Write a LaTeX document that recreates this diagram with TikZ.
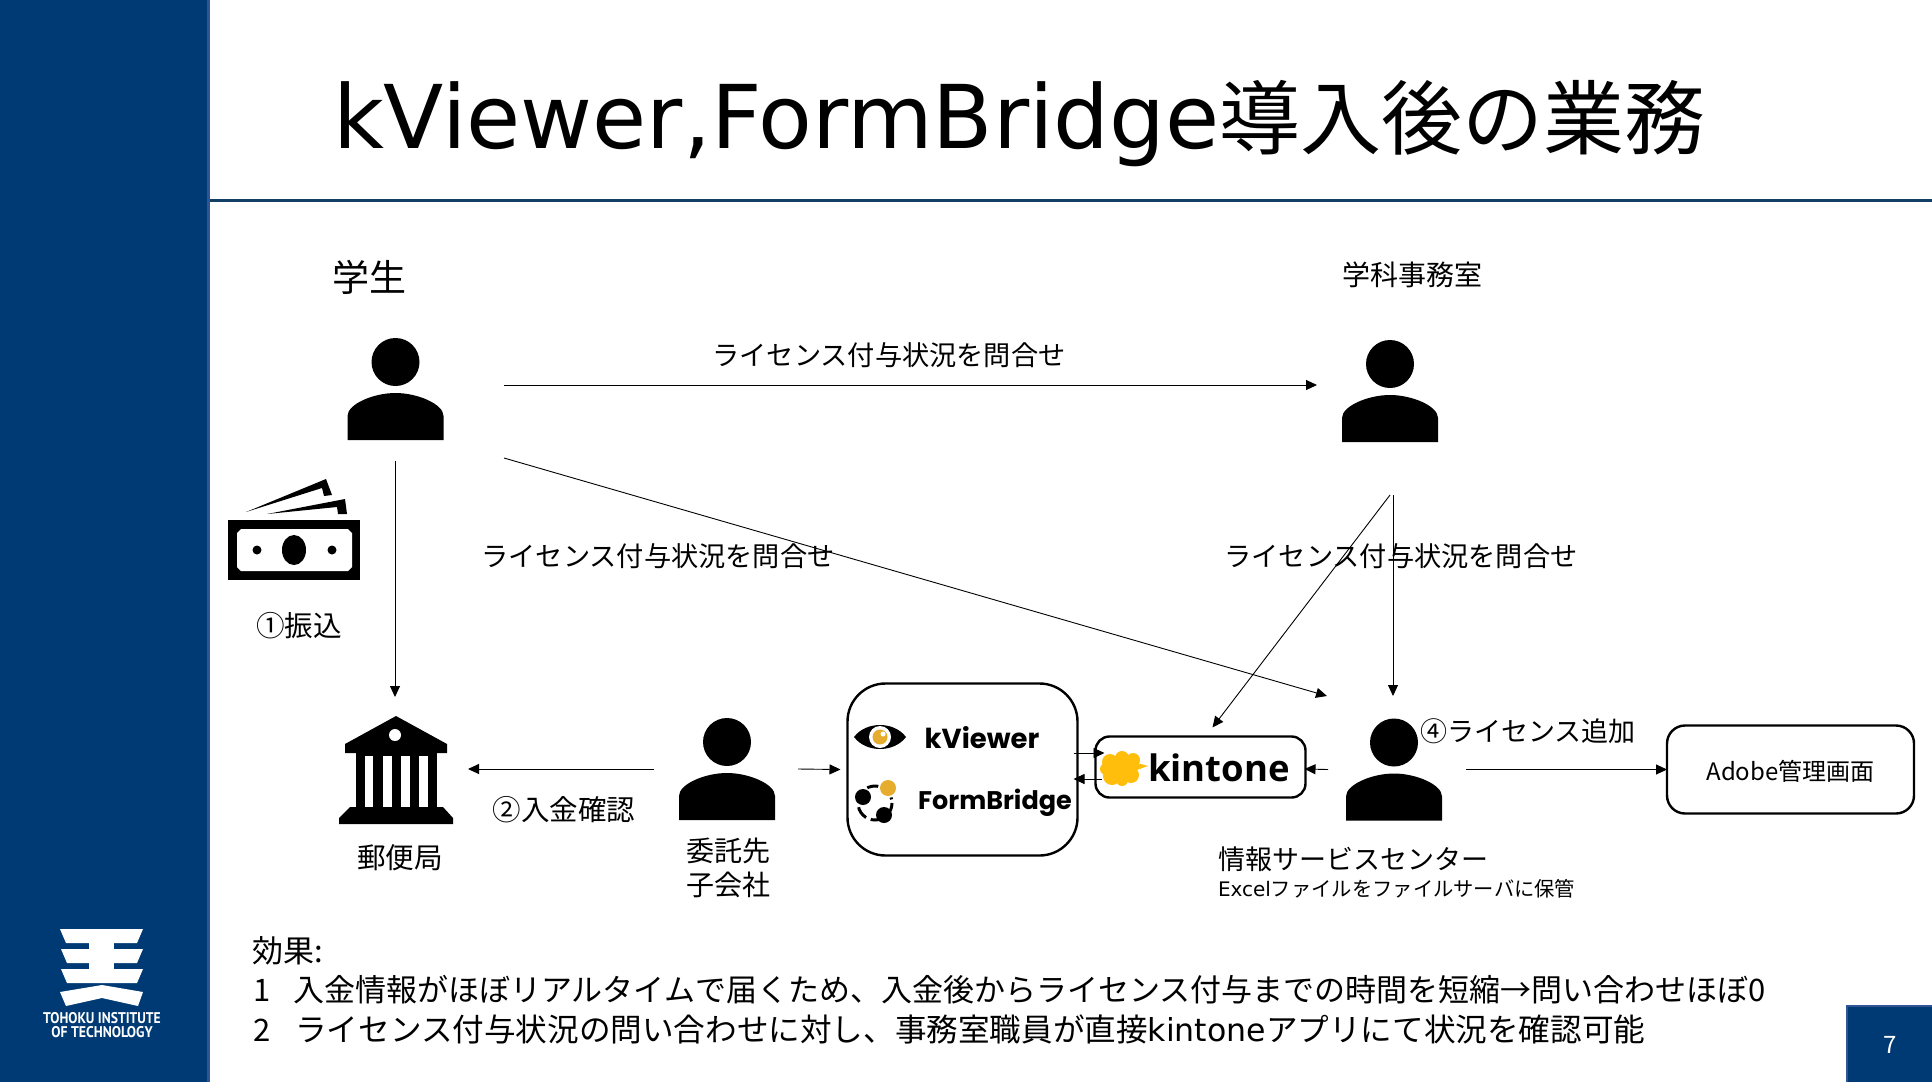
\documentclass[tikz,border=0pt]{standalone}
\usepackage{fontspec}
\setmainfont{Noto Sans CJK JP}
\newfontfamily\logofont{Poppins}
\newfontfamily\kinfont{Open Sans}
\newfontfamily\emblemfont{PT Sans}
\newfontfamily\titlelatin{DejaVu Sans}
\usetikzlibrary{arrows.meta,calc}
\definecolor{navy}{HTML}{003A75}
\definecolor{navyedge}{HTML}{2F5597}
\definecolor{rulecol}{HTML}{123F66}
\definecolor{kyellow}{HTML}{FFBE0B}
\definecolor{korange}{HTML}{E5AC2E}
\newcommand{\fs}[1]{\fontsize{#1}{#1}\selectfont}
\tikzset{
  arr/.style={draw=black,line width=0.9pt,-{Triangle[length=11pt,width=10pt]}},
  lbl/.style={inner sep=0pt,outer sep=0pt,text=black,font=\fs{27}},
  lblw/.style={lbl,anchor=west},
  iconbox/.style={inner sep=0pt,outer sep=0pt,draw=none},
  pbox/.style={draw=black,line width=2.4pt,fill=white,inner sep=0pt,outer sep=0pt},
  personicon/.pic={
    \fill[black] (0,24) circle[radius=24];
    \fill[black] (-48,102) -- (-48,78) .. controls (-48,66) and (-22,55) .. (0,55)
       .. controls (22,55) and (48,66) .. (48,78) -- (48,102) -- cycle;
  }
}
\newcommand{\person}[3]{%
  \node[iconbox,minimum width=96pt,minimum height=102pt] (#1) at (#2,#3+51) {};
  \pic at (#2,#3) {personicon};
}
\begin{document}
\begin{tikzpicture}[x=1pt,y=-1pt]
\useasboundingbox (0,0) rectangle (1932,1082);
\fill[white] (0,0) rectangle (1932,1082);
% sidebar
\fill[navy] (0,0) rectangle (207,1082);
\fill[navyedge] (207,0) rectangle (210,1082);
% title rule
\fill[rulecol] (210,198.5) rectangle (1932,201.5);
% page number
\fill[navyedge] (1846,1005) rectangle (1932,1082);
\fill[navy] (1848,1007) rectangle (1932,1082);
\node[lbl,text=white,font=\fs{24}] (pageno) at (1890,1045) {7};
% title
\node[lblw,font=\fs{81}] (title) at (333,124) {{\titlelatin\fs{88}kViewer,FormBridge}導入後の業務};
% emblem
\fill[white] (60,929) -- (143,929) -- (137,943) -- (66,943) -- cycle;
\fill[white] (89,943) rectangle (114,949);
\fill[white] (61,949) -- (143,949) -- (137,963) -- (67,963) -- cycle;
\fill[white] (89,963) rectangle (114,969);
\fill[white] (61,969) -- (143,969) -- (137,983) -- (67,983) -- cycle;
\fill[white] (60,992) -- (102,985) -- (143,992) -- (138,1006) -- (102,998) -- (66,1006) -- cycle;
\node[lbl,text=white,font=\emblemfont\bfseries\fs{15.5}] (emb1) at (102,1018) {\scalebox{.88}[1]{TOHOKU INSTITUTE}};
\node[lbl,text=white,font=\emblemfont\bfseries\fs{15.5}] (emb2) at (102,1032.5) {\scalebox{.89}[1]{OF TECHNOLOGY}};
% people
\person{stu}{395.5}{338}
\person{jim}{1390}{340}
\person{itk}{727}{718}
\person{joh}{1394}{718.5}
% money icon
\fill[black] (228,520) rectangle (360,580);
\fill[white] (241,529) -- (348,529) -- (352,533) -- (352,567) -- (348,571) -- (241,571) -- (237,567) -- (237,533) -- cycle;
\fill[black] (294,550) ellipse[x radius=12,y radius=15];
\fill[black] (257,550) circle[radius=4.5];
\fill[black] (332,550) circle[radius=4.5];
\fill[black] (246,512) -- (326,479) -- (332,495) -- (324,496) -- (322,488) -- cycle;
\fill[black] (267,514) -- (345,499) -- (347,514) -- (338,514) -- (337,507) -- cycle;
\node[iconbox,minimum width=132pt,minimum height=60pt] (money) at (294,550) {};
% bank icon
\node[iconbox,minimum width=114pt,minimum height=108pt] (bank) at (396,770) {};
\fill[black] (396,716) -- (447,744) -- (447,753) -- (345,753) -- (345,744) -- cycle;
\fill[white] (395,735) circle[radius=6];
\fill[black] (356,753) rectangle (437,807);
\foreach \a/\b in {365/373,383/392,401/410,419/428}{\fill[white] (\a,756) rectangle (\b,807);}
\fill[black] (350,807) -- (443,807) -- (453,818) -- (453,824) -- (339,824) -- (339,818) -- cycle;
% boxes
\node[pbox,rounded corners=38pt,minimum width=230pt,minimum height=172pt] (kv) at (962.5,769.5) {};
\node[pbox,rounded corners=14pt,minimum width=210pt,minimum height=61pt] (kin) at (1200.5,767) {};
\node[pbox,rounded corners=18pt,minimum width=247pt,minimum height=88pt] (adobe) at (1790.5,769.5) {};
\node[lbl,font=\fs{24}] (adobetxt) at (1790.5,771.5) {Adobe管理画面};
% kViewer logo
\fill[black] (854,737) .. controls (866,721) and (894,721) .. (906,737) .. controls (894,753) and (866,753) .. (854,737) -- cycle;
\fill[white] (880,737) circle[radius=11];
\fill[korange] (880,737) circle[radius=7.5];
\fill[white] (883,734) circle[radius=2.5];
\node[lbl,font=\logofont\bfseries\fs{27.5}] (kvname) at (982,738) {kViewer};
% FormBridge logo
\draw[black,line width=3pt,dash pattern=on 13pt off 5pt] (875,803) circle[radius=17];
\fill[white] (888,788) circle[radius=10];
\fill[korange] (888,788) circle[radius=8];
\fill[black] (863,797) circle[radius=8];
\fill[black] (884,815) circle[radius=8];
\node[lbl,font=\logofont\bfseries\fs{25.5}] (fbname) at (995,803) {FormBridge};
% kintone logo
\fill[kyellow] (1121,769) ellipse[x radius=16,y radius=14];
\foreach \x/\y/\r in {1110/762/8,1112/776/9,1122/758/7,1133/760/7,1122/780/6,1131/775/8,1106/769/6}{\fill[kyellow] (\x,\y) circle[radius=\r];}
\fill[kyellow] (1134,762) -- (1148,766) -- (1134,771) -- cycle;
\node[lbl,font=\kinfont\bfseries\fs{36.5}] (kinname) at (1219,768) {kintone};
% labels
\node[lbl,font=\fs{37}] (t1) at (369,277) {学生};
\node[lbl,font=\fs{28}] (t2) at (1412,275) {学科事務室};
\node[lbl] (q1) at (889,355) {\fs{27.2}ライセンス付与状況を問合せ};
\node[lbl] (q2) at (658,556) {\fs{27.2}ライセンス付与状況を問合せ};
\node[lbl] (q3) at (1401,556) {\fs{27.2}ライセンス付与状況を問合せ};
\node[lbl,font=\fs{28.6}] (s1) at (299,626) {①振込};
\node[lbl,font=\fs{28.6}] (post) at (400,858) {郵便局};
\node[lbl,font=\fs{28.5}] (s2) at (564,810) {②入金確認};
\node[lbl,font=\fs{28}] (ct1) at (728,851) {委託先};
\node[lbl,font=\fs{28}] (ct2) at (728,885) {子会社};
\node[lbl] (s4) at (1528,731) {④ライセンス追加};
\node[lblw] (isc) at (1218,859) {情報サービスセンター};
\node[lblw,font=\fs{20.3}] (xl) at (1218,889) {{\titlelatin\fs{20}Excel}ファイルをファイルサーバに保管};
\node[lblw,font=\fs{31}] (e0) at (252,951) {効果:};
\node[lblw,font=\fs{31}] (e1) at (253,990) {1\hspace{23pt}入金情報がほぼリアルタイムで届くため、入金後からライセンス付与までの時間を短縮→問い合わせほぼ0};
\node[lblw,font=\fs{31}] (e2) at (253,1029) {2\hspace{25pt}\fs{31.6}ライセンス付与状況の問い合わせに対し、事務室職員が直接{\titlelatin\fs{31.6}kintone}アプリにて状況を確認可能};
% connectors
\draw[arr] ([xshift=60.5pt,yshift=4pt]stu.east) -- ([xshift=-25pt,yshift=6pt]jim.west);
\draw[arr] ([xshift=-.5pt,yshift=-21pt]stu.south) -- ([xshift=-1pt,yshift=19pt]bank.north);
\draw[arr] ([xshift=60.5pt,yshift=-69pt]stu.east) -- ([xshift=-67pt,yshift=22.5pt]joh.north);
\draw[arr] ([yshift=-53pt]jim.south) -- ([xshift=12pt,yshift=9pt]kin.north);
\draw[arr] ([xshift=3pt,yshift=-53pt]jim.south) -- ([xshift=-1pt,yshift=22.5pt]joh.north);
\draw[arr] ([xshift=-25pt]itk.west) -- ([xshift=15pt,yshift=1pt]bank.east);
\draw[arr] ([xshift=23pt]itk.east) -- ([xshift=-7pt]kv.west);
\draw[arr] ([xshift=-4pt,yshift=16.5pt]kv.east) -- ([xshift=9pt,yshift=14pt]kin.west);
\draw[arr] ([xshift=6pt,yshift=-12pt]kin.west) -- ([xshift=-4pt,yshift=-9.5pt]kv.east);
\draw[arr] ([xshift=-18pt]joh.west) -- ([xshift=-1pt,yshift=-2pt]kin.east);
\draw[arr] ([xshift=24pt]joh.east) -- (adobe.west);
\end{tikzpicture}
\end{document}
